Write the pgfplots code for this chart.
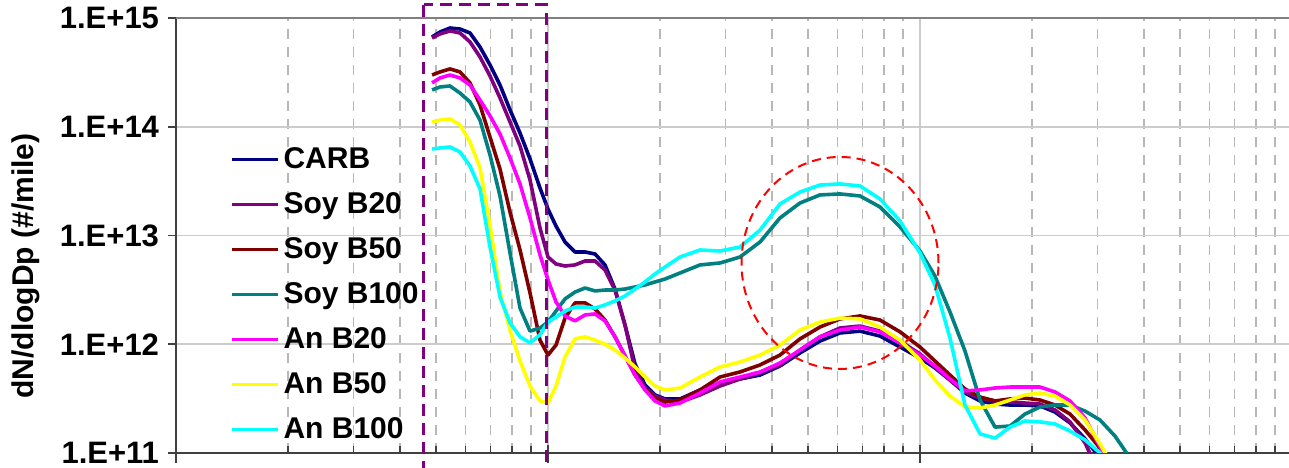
\documentclass[border=0pt]{standalone}
\usepackage{fontspec}
\setmainfont{Liberation Sans}
\usepackage{pgfplots}
\usepackage{pgfplotstable}
\pgfplotsset{compat=1.18}
\definecolor{cNavy}{HTML}{000080}
\definecolor{cPurple}{HTML}{800080}
\definecolor{cMaroon}{HTML}{800000}
\definecolor{cTeal}{HTML}{008080}
\definecolor{cMagenta}{HTML}{FF00FF}
\definecolor{cYellow}{HTML}{FFFF00}
\definecolor{cCyan}{HTML}{00FFFF}

\pgfplotstableread{
D carb soybtwenty soybfifty soybhundred anbtwenty anbfifty anbhundred
4.880 6.69e14 6.55e14 2.99e14 2.18e14 2.53e14 1.106e14 6.24e13
5.125 7.43e14 7.13e14 3.19e14 2.32e14 2.81e14 1.15e14 6.38e13
5.452 8.09e14 7.60e14 3.40e14 2.37e14 2.99e14 1.18e14 6.51e13
5.800 7.92e14 7.28e14 3.19e14 2.04e14 2.81e14 1.04e14 5.86e13
6.171 7.28e14 6.02e14 2.53e14 1.69e14 2.42e14 7.24e13 4.36e13
6.565 5.41e14 4.38e14 1.585e14 1.15e14 1.76e14 4.18e13 2.68e13
6.984 3.70e14 2.93e14 8.05e13 5.50e13 1.26e14 1.25e13 7.84e12
7.430 2.42e14 1.84e14 4.09e13 2.31e13 8.58e13 3.02e12 2.72e12
7.905 1.43e14 1.106e14 1.64e13 6.91e12 5.16e13 1.35e12 1.57e12
8.410 8.76e13 6.65e13 7.36e12 2.15e12 2.98e13 7.01e11 1.17e12
8.947 5.05e13 3.24e13 2.96e12 1.32e12 1.45e13 4.13e11 1.03e12
9.517 2.73e13 1.17e13 1.09e12 1.41e12 6.62e12 3.01e11 1.22e12
10.00 1.75e13 6.34e12 7.96e11 1.60e12 3.90e12 2.88e11 1.60e12
10.51 1.22e13 5.47e12 9.84e11 2.02e12 2.45e12 4.13e11 1.78e12
11.11 8.71e12 5.24e12 1.74e12 2.61e12 1.82e12 7.64e11 2.02e12
11.82 7.05e12 5.36e12 2.40e12 3.02e12 1.64e12 1.12e12 2.20e12
12.58 7.05e12 5.83e12 2.40e12 3.29e12 1.86e12 1.17e12 2.20e12
13.38 6.76e12 5.83e12 2.11e12 3.09e12 1.90e12 1.09e12 2.15e12
14.23 5.36e12 4.82e12 1.67e12 3.15e12 1.64e12 1.00e12 2.30e12
15.14 3.22e12 3.15e12 1.17e12 3.15e12 1.17e12 8.85e11 2.50e12
16.11 1.50e12 1.50e12 7.80e11 3.22e12 7.80e11 7.47e11 2.78e12
17.14 6.58e11 5.80e11 5.21e11 3.36e12 5.21e11 6.18e11 3.22e12
18.23 4.22e11 3.96e11 3.88e11 3.51e12 3.80e11 5.00e11 3.74e12
19.40 3.42e11 3.34e11 3.20e11 3.74e12 3.01e11 4.13e11 4.43e12
20.64 3.14e11 3.07e11 2.94e11 3.98e12 2.71e11 3.80e11 5.13e12
22.64 3.14e11 2.94e11 3.07e11 4.52e12 2.88e11 3.96e11 6.34e12
25.63 3.80e11 3.42e11 3.80e11 5.36e12 3.56e11 5.00e11 7.36e12
29.01 4.40e11 4.13e11 5.00e11 5.59e12 4.50e11 6.18e11 7.20e12
32.83 4.79e11 4.79e11 5.56e11 6.34e12 5.00e11 6.87e11 7.84e12
37.16 5.21e11 5.44e11 6.45e11 8.71e12 5.56e11 7.96e11 1.12e13
42.04 6.31e11 6.45e11 7.96e11 1.45e13 6.72e11 9.84e11 1.95e13
47.58 8.31e11 8.85e11 1.12e12 1.99e13 8.85e11 1.35e12 2.51e13
53.85 1.07e12 1.17e12 1.44e12 2.36e13 1.17e12 1.60e12 2.91e13
60.95 1.27e12 1.41e12 1.71e12 2.41e13 1.35e12 1.74e12 2.98e13
68.98 1.32e12 1.47e12 1.82e12 2.31e13 1.44e12 1.71e12 2.85e13
78.06 1.19e12 1.32e12 1.67e12 1.83e13 1.30e12 1.44e12 2.17e13
88.36 9.43e11 1.07e12 1.30e12 1.20e13 1.03e12 1.09e12 1.36e13
100.0 7.47e11 8.14e11 9.43e11 7.20e12 7.96e11 7.16e11 6.91e12
109.7 6.05e11 6.18e11 7.01e11 4.24e12 6.31e11 4.69e11 3.51e12
120.4 4.69e11 4.69e11 5.21e11 1.98e12 4.79e11 3.34e11 1.14e12
132.1 3.56e11 3.64e11 3.88e11 8.67e11 3.72e11 2.65e11 2.76e11
145.0 3.01e11 3.20e11 3.27e11 3.07e11 3.80e11 2.59e11 1.50e11
159.1 2.82e11 3.01e11 3.01e11 1.73e11 3.96e11 2.76e11 1.37e11
174.6 2.76e11 2.94e11 3.14e11 1.77e11 4.04e11 3.07e11 1.73e11
191.5 2.76e11 2.88e11 3.20e11 2.28e11 4.04e11 3.42e11 1.97e11
210.2 2.71e11 2.82e11 3.07e11 2.65e11 4.04e11 3.56e11 1.93e11
230.6 2.38e11 2.49e11 2.76e11 2.76e11 3.64e11 3.34e11 1.85e11
253.1 1.89e11 1.93e11 2.28e11 2.76e11 3.01e11 2.76e11 1.59e11
277.7 1.35e11 1.24e11 1.63e11 2.43e11 2.10e11 2.01e11 1.32e11
304.7 9.0e10 6.28e10 1.11e11 2.01e11 1.14e11 1.21e11 1.00e11
334.4 5.65e10 3.70e10 6.98e10 1.43e11 6.28e10 6.98e10 6.98e10
366.9 3.70e10 2.42e10 4.57e10 9.0e10 3.70e10 4.11e10 4.57e10
}\psd

\begin{document}
\begin{tikzpicture}
\begin{axis}[
  scale only axis,
  width=558pt, height=217.5pt,
  xmode=log, ymode=log,
  xmin=1, xmax=1000, ymin=1e11, ymax=1e15,
  axis x line*=bottom, axis y line*=left,
  axis line style={draw=black!75, line width=1pt},
  clip mode=individual,
  xtick={1,10,100,1000},
  xticklabels={,,,},
  ytick={1e11,1e12,1e13,1e14,1e15},
  yticklabels={1.E+11,1.E+12,1.E+13,1.E+14,1.E+15},
  yminorticks=false,
  xtick align=inside, ytick align=outside,
  major tick length=4pt, minor tick length=3.5pt,
  every tick/.style={black!75, line width=0.8pt},
  xmajorgrids, xminorgrids, ymajorgrids,
  major grid style={black!20, line width=0.8pt},
  minor x grid style={black!28, line width=0.6pt, dash pattern=on 5pt off 4pt},
  yticklabel style={font=\fontsize{15.5}{17}\selectfont\bfseries, xshift=-1pt},
  ylabel={dN/dlogDp (\#/mile)},
  ylabel style={font=\fontsize{15}{17}\selectfont\bfseries, at={(rel axis cs:0,0.43)}, anchor=center, yshift=75pt},
  legend style={draw=none, fill=none, at={(0.048,0.712)}, anchor=north west,
    font=\fontsize{15}{17}\selectfont\bfseries, row sep=6.5pt, inner sep=0pt},
  legend cell align=left,
  legend image code/.code={\draw[#1] (0pt,0pt) -- (23pt,0pt);},
  every axis plot/.append style={line width=1.8pt, line join=round},
]
\addplot[cNavy] table[x=D, y=carb] {\psd};
\addplot[cPurple] table[x=D, y=soybtwenty] {\psd};
\addplot[cMaroon] table[x=D, y=soybfifty] {\psd};
\addplot[cTeal] table[x=D, y=soybhundred] {\psd};
\addplot[cMagenta] table[x=D, y=anbtwenty] {\psd};
\addplot[cYellow] table[x=D, y=anbfifty] {\psd};
\addplot[cCyan] table[x=D, y=anbhundred] {\psd};
\legend{CARB, Soy B20, Soy B50, Soy B100, An B20, An B50, An B100}
\pgfplotsinvokeforeach{1,10,100}{
  \draw[black!75, line width=0.8pt] (axis cs:#1,1e11) ++(0pt,-5pt) -- ++(0pt,8pt);
}
\draw[black!50, line width=1pt] (rel axis cs:0,1) -- (rel axis cs:1,1) -- (rel axis cs:1,0);
\draw[cPurple, line width=1.5pt, dash pattern=on 6pt off 3.5pt] (axis cs:4.64,1.317e15) rectangle (axis cs:9.88,5e10);
\draw[red, line width=1pt, dash pattern=on 4.5pt off 3pt] (axis cs:60.95,5.59e12) ellipse [x radius=49.25pt, y radius=53pt];
\end{axis}
\pgfresetboundingbox
\path[use as bounding box] ([shift={(-88pt,-7pt)}]current axis.south west) rectangle ([shift={(-1.5pt,9pt)}]current axis.north east);
\end{tikzpicture}
\end{document}
